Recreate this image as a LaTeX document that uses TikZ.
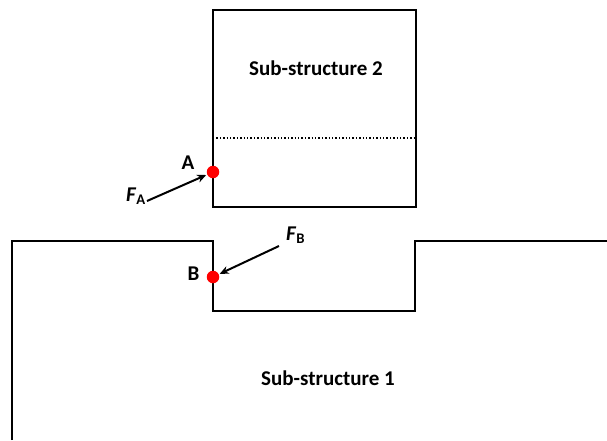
\documentclass[tikz,border=0pt]{standalone}
\usepackage{fontspec}
\setmainfont{Carlito}
\usetikzlibrary{arrows.meta}
\begin{document}
\begin{tikzpicture}[x=1pt,y=-1pt,
  outline/.style={line width=2pt, line join=miter},
  dotline/.style={line width=1.4pt, dotted},
  pt/.style={circle, fill=red, inner sep=0pt, minimum size=12.5pt},
  lbl/.style={font=\fontsize{21}{22}\selectfont\bfseries, inner sep=0pt},
  force/.style={line width=2pt, -{Stealth[length=9pt,width=8pt]}, shorten >=1pt}]
\useasboundingbox (0,0) rectangle (607,440);
% Sub-structure 2
\draw[outline] (213,10) rectangle (416,207);
\draw[dotline] (213,138) -- (416,138);
\node[lbl, anchor=base] (s2) at (316,75.5) {Sub-structure 2};
% Sub-structure 1
\draw[outline] (12,440) -- (12,241) -- (213,241) -- (213,311) -- (415,311) -- (415,241) -- (607,241);
\node[lbl, anchor=base] (s1) at (328,385.5) {Sub-structure 1};
% Point A
\node[pt] (A) at (213,172) {};
\node[lbl, anchor=base] (la) at (188,169) {A};
\node[lbl, anchor=base west] (fa) at (126,201) {\textit{F}\textsubscript{A}};
\coordinate (fas) at (147,201);
\draw[force] (fas) -- (A);
% Point B
\node[pt] (B) at (213,277) {};
\node[lbl, anchor=base] (lb) at (193.5,280) {B};
\node[lbl, anchor=base west] (fb) at (286,240) {\textit{F}\textsubscript{B}};
\coordinate (fbs) at (279,246);
\draw[force] (fbs) -- (B);
\end{tikzpicture}
\end{document}
